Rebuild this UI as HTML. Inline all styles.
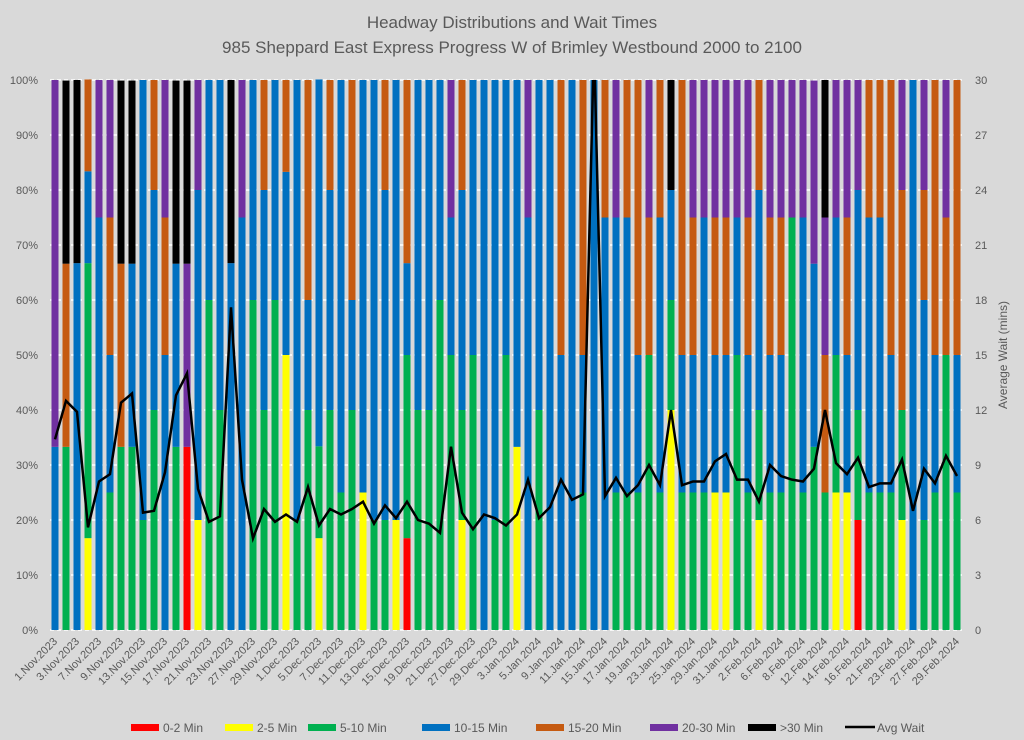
<!DOCTYPE html>
<html><head><meta charset="utf-8"><style>
html,body{margin:0;padding:0;background:#d9d9d9;}
svg{display:block;font-family:"Liberation Sans",sans-serif;}
</style></head><body>
<svg id="chart" width="1024" height="740" xmlns="http://www.w3.org/2000/svg">
<rect x="0" y="0" width="1024" height="740" fill="#d9d9d9"/>
<text x="512" y="28" text-anchor="middle" font-size="17" fill="#595959">Headway Distributions and Wait Times</text>
<text x="512" y="53" text-anchor="middle" font-size="17" fill="#595959">985 Sheppard East Express  Progress W of Brimley Westbound 2000 to 2100</text>
<g id="grid"></g>
<g id="bars"></g>
<g id="line"></g>
<g id="yleft"></g>
<g id="yright"></g>
<g id="xaxis"></g>
<text transform="translate(1007,355) rotate(-90)" text-anchor="middle" font-size="12" fill="#595959">Average Wait (mins)</text>
<g id="legend"></g>
</svg>
<script>
const dates = ["1.Nov.2023","2.Nov.2023","3.Nov.2023","6.Nov.2023","7.Nov.2023","8.Nov.2023","9.Nov.2023","10.Nov.2023","13.Nov.2023","14.Nov.2023","15.Nov.2023","16.Nov.2023","17.Nov.2023","20.Nov.2023","21.Nov.2023","22.Nov.2023","23.Nov.2023","24.Nov.2023","27.Nov.2023","28.Nov.2023","29.Nov.2023","30.Nov.2023",
"1.Dec.2023","4.Dec.2023","5.Dec.2023","6.Dec.2023","7.Dec.2023","8.Dec.2023","11.Dec.2023","12.Dec.2023","13.Dec.2023","14.Dec.2023","15.Dec.2023","18.Dec.2023","19.Dec.2023","20.Dec.2023","21.Dec.2023","22.Dec.2023","27.Dec.2023","28.Dec.2023","29.Dec.2023",
"2.Jan.2024","3.Jan.2024","4.Jan.2024","5.Jan.2024","8.Jan.2024","9.Jan.2024","10.Jan.2024","11.Jan.2024","12.Jan.2024","15.Jan.2024","16.Jan.2024","17.Jan.2024","18.Jan.2024","19.Jan.2024","22.Jan.2024","23.Jan.2024","24.Jan.2024","25.Jan.2024","26.Jan.2024","29.Jan.2024","30.Jan.2024","31.Jan.2024",
"1.Feb.2024","2.Feb.2024","5.Feb.2024","6.Feb.2024","7.Feb.2024","8.Feb.2024","9.Feb.2024","12.Feb.2024","13.Feb.2024","14.Feb.2024","15.Feb.2024","16.Feb.2024","20.Feb.2024","21.Feb.2024","22.Feb.2024","23.Feb.2024","26.Feb.2024","27.Feb.2024","28.Feb.2024","29.Feb.2024"];
const min0to2 = [0,0,0,0,0,0,0,0,0,0, 0,0,33.3,0,0,0,0,0,0,0, 0,0,0,0,0,0,0,0,0,0, 0,0,16.7,0,0,0,0,0,0,0, 0,0,0,0,0,0,0,0,0,0, 0,0,0,0,0,0,0,0,0,0, 0,0,0,0,0,0,0,0,0,0, 0,0,0,20,0,0,0,0,0,0, 0,0,0];
const min2to5 = [0,0,0,16.7,0,0,0,0,0,0, 0,0,0,20,0,0,0,0,0,0, 0,50,0,0,16.7,0,0,0,25,0, 0,20,0,0,0,0,0,20,0,0, 0,0,33.3,0,0,0,0,0,0,0, 0,0,0,0,0,0,40,0,0,0, 25,25,0,0,20,0,0,0,0,0, 0,25,25,0,0,0,0,20,0,0, 0,0,0];
const min5to10 = [0,33.3,0,50,0,25,33.3,33.3,20,40, 0,33.3,0,0,60,40,0,0,60,40, 60,0,20,40,16.7,40,25,40,0,20, 20,0,33.3,40,40,60,50,20,50,0, 20,50,0,0,40,0,0,0,25,0, 0,25,25,25,50,25,20,25,25,25, 0,0,50,25,20,25,25,75,25,33.3, 25,25,0,20,25,25,25,20,0,20, 25,50,25];
const min10to15 = [33.3,0,66.7,16.7,75,25,0,33.3,80,40, 50,33.3,0,60,40,60,66.7,75,40,40, 40,33.3,80,20,66.7,40,75,20,75,80, 60,80,16.7,60,60,40,25,40,50,100, 80,50,66.7,75,60,100,50,100,25,100, 75,50,50,25,0,50,20,25,25,50, 25,25,25,25,40,25,25,0,50,33.3, 0,25,25,40,50,50,25,0,100,40, 25,0,25];
const min15to20 = [0,33.3,0,16.7,0,25,33.3,0,0,20, 25,0,0,0,0,0,0,0,0,20, 0,16.7,0,40,0,20,0,40,0,0, 20,0,33.3,0,0,0,0,20,0,0, 0,0,0,0,0,0,50,0,50,0, 25,0,25,50,25,25,0,50,25,0, 25,25,0,25,20,25,25,0,0,0, 25,0,25,0,25,25,50,40,0,20, 50,25,50];
const min20to30 = [66.7,0,0,0,25,25,0,0,0,0, 25,0,33.3,20,0,0,0,25,0,0, 0,0,0,0,0,0,0,0,0,0, 0,0,0,0,0,0,25,0,0,0, 0,0,0,25,0,0,0,0,0,0, 0,25,0,0,25,0,0,0,25,25, 25,25,25,25,0,25,25,25,25,33.3, 25,25,25,20,0,0,0,20,0,20, 0,25,0];
const min30plus = [0,33.3,33.3,0,0,0,33.3,33.3,0,0, 0,33.3,33.3,0,0,0,33.3,0,0,0, 0,0,0,0,0,0,0,0,0,0, 0,0,0,0,0,0,0,0,0,0, 0,0,0,0,0,0,0,0,0,0, 0,0,0,0,0,0,20,0,0,0, 0,0,0,0,0,0,0,0,0,0, 25,0,0,0,0,0,0,0,0,0, 0,0,0];
const avgWait = [10.4,12.5,11.9,5.6,8.1,8.5,12.4,12.9,6.4,6.5, 8.6,12.8,14.0,7.7,5.9,6.2,17.6,8.2,5.0,6.6, 5.9,6.3,5.9,7.8,5.7,6.6,6.3,6.6,7.0,5.8, 6.8,6.1,7.0,6.0,5.8,5.3,10.0,6.4,5.5,6.3, 6.1,5.7,6.3,8.2,6.1,6.7,8.2,7.1,7.4,32, 7.3,8.3,7.3,7.9,9.0,7.9,12.0,7.9,8.1,8.1, 9.2,9.6,8.2,8.2,7.0,9.0,8.4,8.2,8.1,8.8, 12.0,9.1,8.5,9.4,7.8,8.0,8.0,9.3,6.5,8.8, 8.0,9.5,8.4];
const leftTicks = ["0%","10%","20%","30%","40%","50%","60%","70%","80%","90%","100%"];
const rightTicks = [0,3,6,9,12,15,18,21,24,27,30];

const NS="http://www.w3.org/2000/svg";
const X0=55, X1=957, YT=80, YB=630;
const series=[
 {name:"0-2 Min",vals:min0to2,color:"#ff0000",key:"0-2"},
 {name:"2-5 Min",vals:min2to5,color:"#ffff00",key:"2-5"},
 {name:"5-10 Min",vals:min5to10,color:"#00b050",key:"5-10"},
 {name:"10-15 Min",vals:min10to15,color:"#0070c0",key:"10-15"},
 {name:"15-20 Min",vals:min15to20,color:"#c55a11",key:"15-20"},
 {name:"20-30 Min",vals:min20to30,color:"#7030a0",key:"20-30"},
 {name:">30 Min",vals:min30plus,color:"#000000",key:"30plus"}];
function xPos(i){return X0+(X1-X0)*i/(dates.length-1);}
function yPct(p){return YB-(YB-YT)*p/100;}
function yWait(w){return YB-(YB-YT)*w/30;}
function mk(tag,attrs,parent){const e=document.createElementNS(NS,tag);for(const k in attrs)e.setAttribute(k,attrs[k]);parent.appendChild(e);return e;}

const grid=document.getElementById('grid');
for(let i=0;i<=10;i++){
 const l=mk('line',{x1:50,x2:962,y1:yPct(i*10),y2:yPct(i*10),stroke:"#ffffff","stroke-width":1.5,"stroke-dasharray":"4 3"},grid);
 
 
}
const yl=document.getElementById('yleft');
leftTicks.forEach((t,i)=>{
 const e=mk('text',{x:38,y:yPct(i*10)+4,"text-anchor":"end","font-size":11,fill:"#595959"},yl);e.textContent=t;
 
 
});
const yr=document.getElementById('yright');
rightTicks.forEach(t=>{
 const e=mk('text',{x:975,y:yWait(t)+4,"font-size":11,fill:"#595959"},yr);e.textContent=t;
 
 
});
const bars=document.getElementById('bars');
dates.forEach((d,i)=>{
 let cum=0;
 series.forEach(s=>{
  const v=s.vals[i]; if(!v) return;
  const y1=yPct(cum+v), y0=yPct(cum);
  const r=mk('rect',{x:xPos(i)-3.5,y:y1,width:7,height:y0-y1,fill:s.color},bars);
  
  
  cum+=v;
 });
});
const lg=document.getElementById('line');
const cp=mk('clipPath',{id:"plotclip"},lg);mk('rect',{x:45,y:YT,width:925,height:YB-YT},cp);
const pl=mk('polyline',{points:avgWait.map((w,i)=>xPos(i)+","+yWait(w)).join(" "),fill:"none",stroke:"#000","stroke-width":2.5,"stroke-linejoin":"miter","clip-path":"url(#plotclip)"},lg);


const xa=document.getElementById('xaxis');
dates.forEach((d,i)=>{
 if(i%2) return;
 const x=xPos(i)+3,y=642;
 const t=mk('text',{x:x,y:y,"text-anchor":"end","font-size":11,fill:"#595959",transform:`rotate(-45 ${x} ${y})`},xa);t.textContent=d;
 
 
});
const leg=document.getElementById('legend');
const lx=[163,257,340,454,568,682,780];
series.forEach((s,i)=>{
 const g=mk('g',{},leg);
 
 
 mk('rect',{x:lx[i]-32,y:724,width:28,height:7,fill:s.color},g);
 const t=mk('text',{x:lx[i],y:732,"font-size":12,fill:"#595959"},g);t.textContent=s.name;
});
const g2=mk('g',{},leg);


mk('line',{x1:845,x2:875,y1:727,y2:727,stroke:"#000","stroke-width":2.5},g2);
const t2=mk('text',{x:877,y:732,"font-size":12,fill:"#595959"},g2);t2.textContent="Avg Wait";
</script>
</body></html>
